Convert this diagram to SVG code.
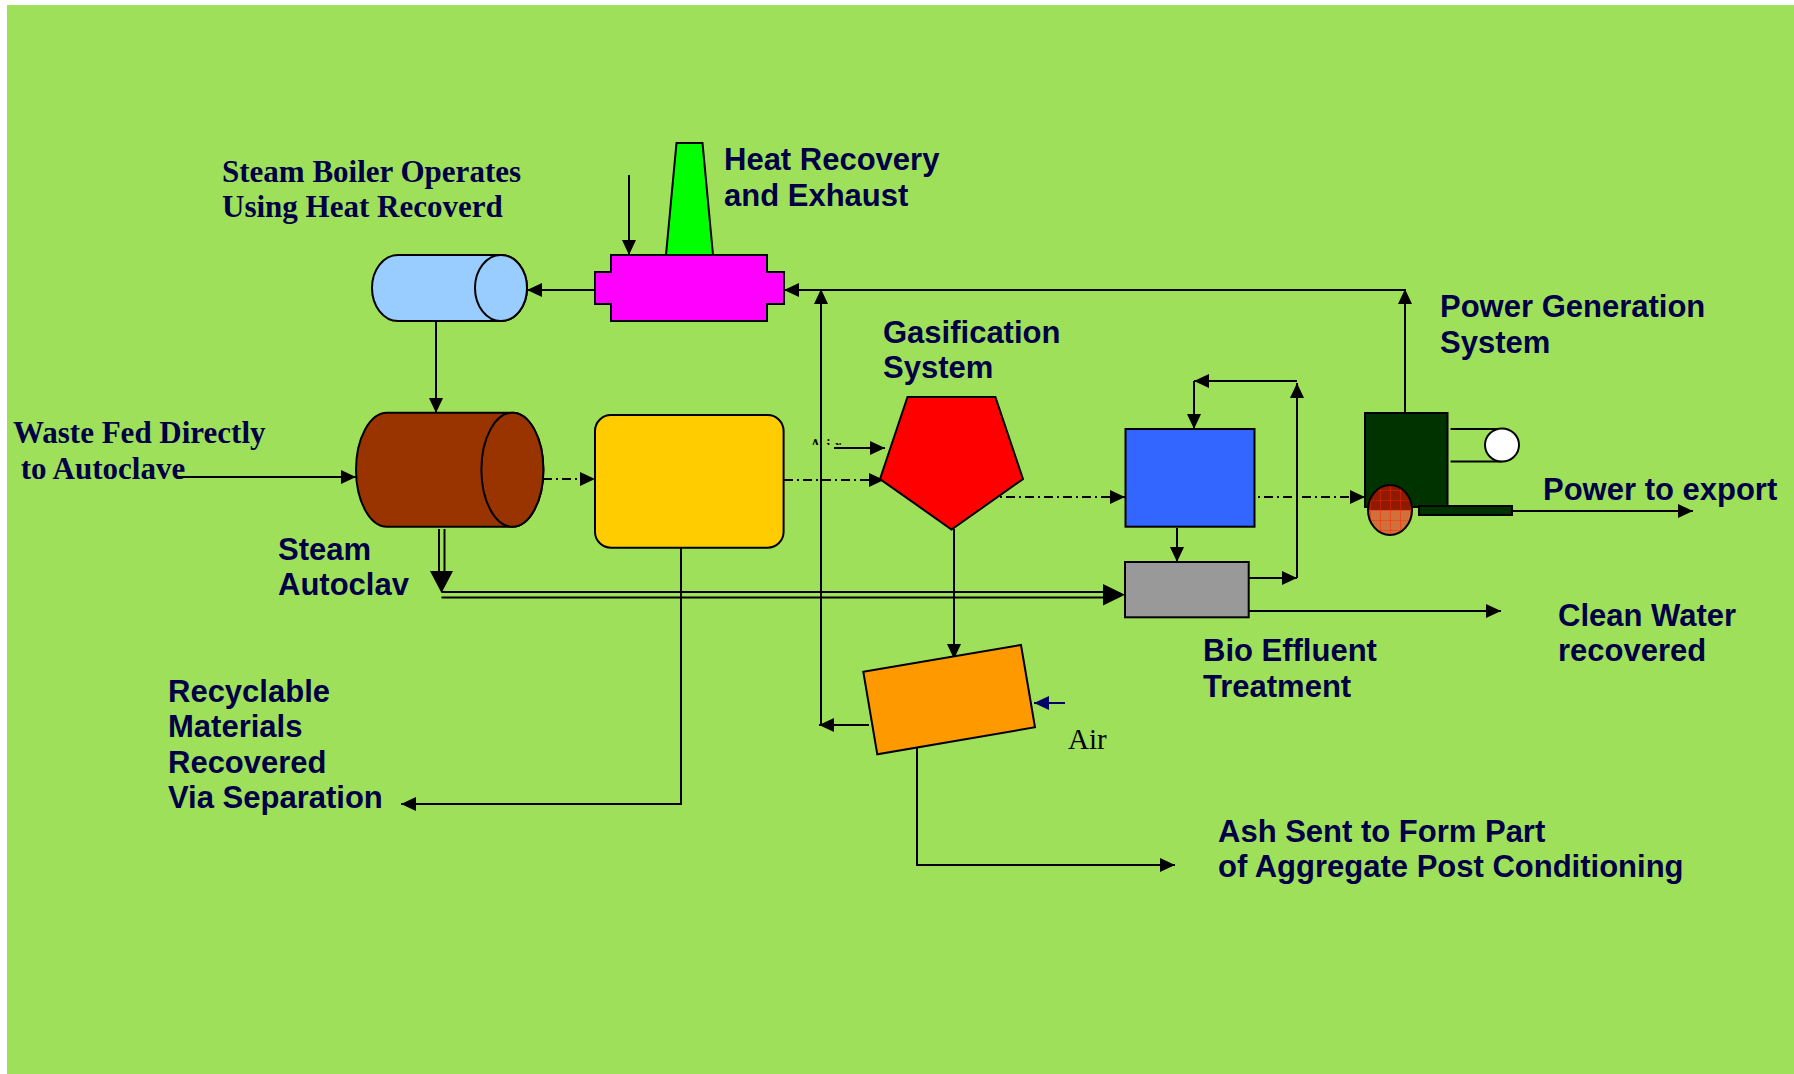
<svg xmlns="http://www.w3.org/2000/svg" width="1794" height="1074" viewBox="0 0 1794 1074">
<style>
.t{font-family:"Liberation Sans",Arial,sans-serif;font-weight:bold;font-size:31px;fill:#000046}
.s{font-family:"Liberation Serif","Times New Roman",serif;font-weight:bold;font-size:31px;fill:#000046}
.c{fill:none;stroke:#000;stroke-width:2}
.dd{fill:none;stroke:#000;stroke-width:2;stroke-dasharray:9 4 2 4}
.o{stroke:#000;stroke-width:2}
</style>
<defs>
<marker id="a" markerUnits="userSpaceOnUse" markerWidth="15" markerHeight="14" refX="15" refY="7" orient="auto"><path d="M0,0 L15,7 L0,14 Z" fill="#000"/></marker>
<marker id="an" markerUnits="userSpaceOnUse" markerWidth="15" markerHeight="14" refX="15" refY="7" orient="auto"><path d="M0,0 L15,7 L0,14 Z" fill="#000066"/></marker>
<linearGradient id="rg" x1="0" y1="0" x2="0" y2="1"><stop offset="0.5" stop-color="#8E1A00"/><stop offset="0.5" stop-color="#D0703A"/></linearGradient>
<pattern id="grid" width="10" height="10" patternUnits="userSpaceOnUse"><path d="M0,0 H10 M0,0 V10" stroke="#FF2200" stroke-width="1.2" fill="none"/></pattern>
<clipPath id="airclip"><rect x="800" y="425" width="60" height="20"/></clipPath>
</defs>
<rect x="0" y="0" width="1794" height="1074" fill="#ffffff"/>
<rect x="7" y="5" width="1787" height="1069" fill="#9FE05A"/>

<g id="connectors">
<line class="c" x1="629" y1="175" x2="629" y2="255" marker-end="url(#a)"/>
<line class="c" x1="595" y1="290" x2="527" y2="290" marker-end="url(#a)"/>
<line class="c" x1="1405" y1="413" x2="1405" y2="289" marker-end="url(#a)"/>
<line class="c" x1="1405" y1="290" x2="784" y2="290" marker-end="url(#a)"/>
<line class="c" x1="436" y1="321" x2="436" y2="413" marker-end="url(#a)"/>
<line class="c" x1="176" y1="477" x2="356" y2="477" marker-end="url(#a)"/>
<line class="dd" x1="543" y1="479" x2="595" y2="479" marker-end="url(#a)"/>
<line class="dd" x1="784" y1="480" x2="884" y2="480" marker-end="url(#a)"/>
<line class="c" x1="834" y1="448" x2="885" y2="448" marker-end="url(#a)"/>
<line class="dd" x1="987" y1="497" x2="1125" y2="497" marker-end="url(#a)"/>
<line class="dd" x1="1245" y1="497" x2="1365" y2="497" marker-end="url(#a)"/>
<line class="c" x1="1177" y1="528" x2="1177" y2="562" marker-end="url(#a)"/>
<line class="c" x1="1245" y1="578" x2="1297" y2="578" marker-end="url(#a)"/>
<line class="c" x1="1297" y1="578" x2="1297" y2="383" marker-end="url(#a)"/>
<line class="c" x1="1297" y1="381" x2="1194" y2="381" marker-end="url(#a)"/>
<line class="c" x1="1194" y1="381" x2="1194" y2="429" marker-end="url(#a)"/>
<line class="c" x1="1245" y1="611" x2="1501" y2="611" marker-end="url(#a)"/>
<line class="c" x1="439" y1="529" x2="439" y2="575"/>
<line class="c" x1="444.5" y1="529" x2="444.5" y2="575"/>
<path d="M430,571 L453,571 L441.5,593 Z" fill="#000"/>
<line class="c" x1="441.5" y1="592" x2="1106" y2="592"/>
<line class="c" x1="441.5" y1="597.5" x2="1106" y2="597.5"/>
<path d="M1103,584 L1125,594.7 L1103,605.5 Z" fill="#000"/>
<polyline class="c" points="681,548 681,804 401,804" marker-end="url(#a)"/>
<line class="c" x1="821" y1="725" x2="821" y2="289" marker-end="url(#a)"/>
<line class="c" x1="869" y1="725" x2="819" y2="725" marker-end="url(#a)"/>
<line class="c" x1="954" y1="529" x2="954" y2="659" marker-end="url(#a)"/>
<line x1="1065" y1="703" x2="1034" y2="703" stroke="#000066" stroke-width="2" marker-end="url(#an)"/>
<polyline class="c" points="917,748 917,865 1175,865" marker-end="url(#a)"/>
<line class="c" x1="1512" y1="511" x2="1693" y2="511" marker-end="url(#a)"/>
</g>

<g id="boiler">
<path class="o" d="M398,255 H501 A26,33 0 0 1 501,321 H398 A26,33 0 0 1 398,255 Z" fill="#99CCFF"/>
<ellipse class="o" cx="501" cy="288" rx="26" ry="33" fill="#99CCFF"/>
</g>

<g id="heat-recovery">
<polygon class="o" points="676.5,143 702.5,143 713,255 666,255" fill="#00FF00"/>
<polygon class="o" points="611,255 767,255 767,272 784,272 784,304 767,304 767,321 611,321 611,304 595,304 595,272 611,272" fill="#FF00FF"/>
</g>

<g id="autoclave">
<path class="o" d="M387,412.7 H512.4 A31,57 0 0 1 512.4,526.7 H387 A31,57 0 0 1 387,412.7 Z" fill="#993300"/>
<ellipse class="o" cx="512.4" cy="469.7" rx="31" ry="57" fill="#993300"/>
</g>

<g id="separation">
<rect class="o" x="595" y="415" width="188.6" height="132.7" rx="16" fill="#FFCC00"/>
</g>

<g id="gasifier">
<polygon class="o" points="907.5,397 995.4,397 1023,479 951.5,529.5 880,479" fill="#FF0000"/>
</g>

<g id="ash-conditioner">
<polygon class="o" points="863.3,671.7 1021,645 1035,727.3 877.3,754.3" fill="#FF9900"/>
</g>

<g id="bio-reactor">
<rect class="o" x="1125.5" y="429" width="129" height="97.7" fill="#3366FF"/>
</g>

<g id="bio-effluent">
<rect class="o" x="1125" y="562" width="123.7" height="55.3" fill="#999999"/>
</g>

<g id="power-generation">
<rect class="o" x="1365" y="413" width="82.5" height="94" fill="#003300"/>
<line class="c" x1="1450.6" y1="429" x2="1502" y2="429"/>
<line class="c" x1="1450.6" y1="461.5" x2="1502" y2="461.5"/>
<ellipse class="o" cx="1502" cy="445" rx="17" ry="16.5" fill="#FFFFFF"/>
<rect class="o" x="1419" y="506" width="93" height="9" fill="#003300"/>
<ellipse cx="1390" cy="510" rx="22" ry="25" fill="url(#rg)"/>
<ellipse cx="1390" cy="510" rx="22" ry="25" fill="url(#grid)" opacity="0.8"/>
<ellipse class="o" cx="1390" cy="510" rx="22" ry="25" fill="none"/>
</g>

<g id="labels">
<text class="s" x="222" y="182">Steam Boiler Operates</text>
<text class="s" x="222" y="217">Using Heat Recoverd</text>
<text class="t" x="724" y="170">Heat Recovery</text>
<text class="t" x="724" y="206">and Exhaust</text>
<text class="t" x="1440" y="317">Power Generation</text>
<text class="t" x="1440" y="353">System</text>
<text class="t" x="883" y="343">Gasification</text>
<text class="t" x="883" y="378">System</text>
<text class="s" x="13" y="443">Waste Fed Directly</text>
<text class="s" x="13" y="479" xml:space="preserve"> to Autoclave</text>
<text class="t" x="278" y="560">Steam</text>
<text class="t" x="278" y="595">Autoclav</text>
<text class="t" x="1543" y="500">Power to export</text>
<text class="t" x="1558" y="626">Clean Water</text>
<text class="t" x="1558" y="661">recovered</text>
<text class="t" x="1203" y="661">Bio Effluent</text>
<text class="t" x="1203" y="697">Treatment</text>
<text class="t" x="168" y="702">Recyclable</text>
<text class="t" x="168" y="737">Materials</text>
<text class="t" x="168" y="773">Recovered</text>
<text class="t" x="168" y="808">Via Separation</text>
<text x="1068" y="749" font-family="Liberation Serif,'Times New Roman',serif" font-size="29" fill="#000">Air</text>
<text x="809" y="452" clip-path="url(#airclip)" font-family="Liberation Serif,'Times New Roman',serif" font-size="18" letter-spacing="4" fill="#000">Air</text>
<text class="t" x="1218" y="842">Ash Sent to Form Part</text>
<text class="t" x="1218" y="877">of Aggregate Post Conditioning</text>
</g>
</svg>
